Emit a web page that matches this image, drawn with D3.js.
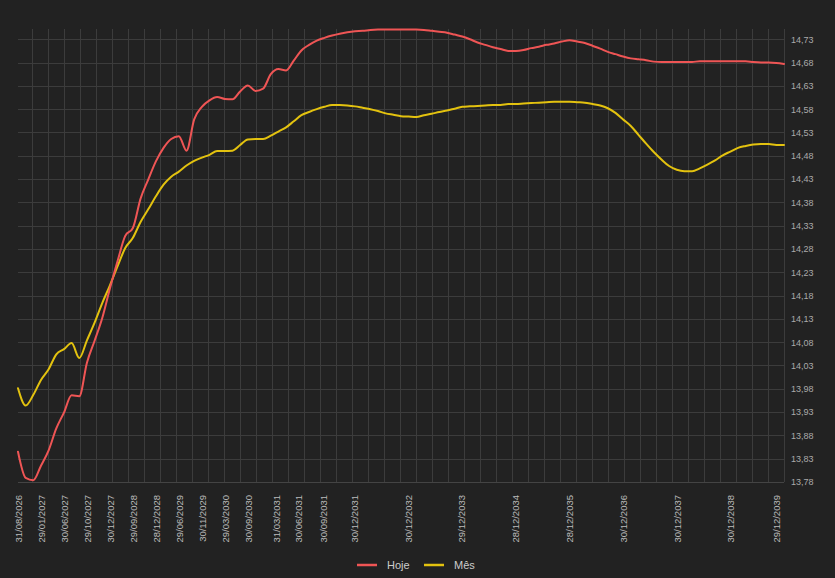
<!DOCTYPE html>
<html>
<head>
<meta charset="utf-8">
<script src="https://cdn.jsdelivr.net/npm/d3@7"></script>
<style>
  html, body { margin: 0; padding: 0; background: #222222; }
  svg { display: block; }
</style>
</head>
<body>
<svg id="chart" width="835" height="578"></svg>
<script>
// ---- DATA ----
// x axis: curve vertex index (0..100); labelled vertices with their dates
const tickIndex = [0, 3, 6, 9, 12, 15, 18, 21, 24, 27, 30, 33.7, 36.6, 39.9, 43.9, 50.9, 57.8, 64.9, 71.9, 79, 86, 93, 99];
const tickLabels = ["31/08/2026","29/01/2027","30/06/2027","29/10/2027","30/12/2027","29/09/2028","28/12/2028",
  "29/06/2029","30/11/2029","29/03/2030","30/09/2030","31/03/2031","30/06/2031","30/09/2031","30/12/2031",
  "30/12/2032","29/12/2033","28/12/2034","28/12/2035","30/12/2036","30/12/2037","30/12/2038","29/12/2039"];

const seriesNames = ["Hoje", "Mês"];

const hoje = [13.845,13.789,13.784,13.815,13.848,13.895,13.929,13.966,13.964,14.036,
  14.083,14.132,14.195,14.254,14.308,14.325,14.388,14.429,14.468,14.497,
  14.516,14.522,14.491,14.558,14.585,14.599,14.606,14.602,14.601,14.618,
  14.631,14.619,14.624,14.655,14.666,14.663,14.684,14.706,14.718,14.727,
  14.733,14.738,14.742,14.745,14.747,14.748,14.750,14.751,14.751,14.751,
  14.751,14.751,14.751,14.750,14.748,14.746,14.744,14.740,14.736,14.730,
  14.723,14.718,14.713,14.709,14.705,14.705,14.707,14.711,14.714,14.718,
  14.721,14.725,14.728,14.725,14.722,14.716,14.710,14.703,14.698,14.693,
  14.689,14.687,14.685,14.682,14.681,14.681,14.681,14.681,14.681,14.683,
  14.683,14.683,14.683,14.683,14.683,14.683,14.681,14.680,14.680,14.679,
  14.677];

const mes = [13.981,13.944,13.967,13.999,14.022,14.054,14.065,14.078,14.046,14.084,
  14.122,14.164,14.202,14.243,14.282,14.304,14.338,14.365,14.393,14.418,
  14.435,14.446,14.459,14.469,14.476,14.482,14.490,14.490,14.491,14.503,
  14.515,14.516,14.516,14.523,14.532,14.541,14.554,14.567,14.574,14.580,
  14.585,14.589,14.589,14.588,14.586,14.583,14.580,14.576,14.571,14.568,
  14.565,14.564,14.563,14.567,14.570,14.574,14.577,14.581,14.585,14.586,
  14.587,14.588,14.589,14.589,14.591,14.591,14.592,14.593,14.594,14.595,
  14.596,14.596,14.596,14.595,14.594,14.591,14.588,14.582,14.572,14.558,
  14.544,14.525,14.506,14.488,14.472,14.458,14.450,14.447,14.447,14.453,
  14.461,14.470,14.481,14.489,14.497,14.501,14.504,14.505,14.505,14.503,
  14.503];

const yMin = 13.78, yMax = 14.752, yStep = 0.05;
const yTicks = d3.range(0, 20).map(k => +(yMin + k * yStep).toFixed(2));

// ---- LAYOUT ----
const svg = d3.select("#chart");
const W = 835, H = 578;
const plot = { left: 18, right: 784, top: 29, bottom: 482 };
const colors = { "Hoje": "#ef5555", "Mês": "#e3c20f" };
const gridColor = "#3c3c3c";
const fontFam = "'Liberation Sans', Arial, sans-serif";

svg.append("rect").attr("width", W).attr("height", H).attr("fill", "#222222");

const x = d3.scaleLinear().domain([0, hoje.length - 1]).range([plot.left, plot.right]);
const y = d3.scaleLinear().domain([yMin, yMax]).range([plot.bottom, plot.top]);

// horizontal grid
svg.append("g").selectAll("line").data(yTicks).join("line")
  .attr("x1", plot.left).attr("x2", plot.right)
  .attr("y1", d => Math.round(y(d)) + 0.5).attr("y2", d => Math.round(y(d)) + 0.5)
  .attr("stroke", gridColor).attr("stroke-width", 1);

// vertical grid (every 16px from right edge)
const vx = d3.range(plot.right, plot.left + 8, -16);
svg.append("g").selectAll("line").data(vx).join("line")
  .attr("x1", d => Math.round(d) + 0.5).attr("x2", d => Math.round(d) + 0.5)
  .attr("y1", plot.top).attr("y2", plot.bottom)
  .attr("stroke", gridColor).attr("stroke-width", 1);

// bottom axis line
svg.append("line").attr("x1", plot.left).attr("x2", plot.right)
  .attr("y1", plot.bottom + 0.5).attr("y2", plot.bottom + 0.5)
  .attr("stroke", "#444").attr("stroke-width", 1);

// y axis (right)
const yAxis = d3.axisRight(y).tickValues(yTicks).tickSize(0).tickPadding(7)
  .tickFormat(d => d3.format(".2f")(d).replace(".", ","));
const gy = svg.append("g").attr("transform", `translate(${plot.right},0)`).call(yAxis);
gy.select(".domain").remove();
gy.selectAll("text").attr("fill", "#aaaaaa").attr("font-size", "9px").attr("font-family", fontFam);

// x axis (bottom)
const xAxis = d3.axisBottom(x).tickValues(tickIndex).tickSize(0)
  .tickFormat((d, i) => tickLabels[i]);
const gx = svg.append("g").attr("transform", `translate(0,${plot.bottom})`).call(xAxis);
gx.select(".domain").remove();
gx.selectAll("text")
  .attr("fill", "#bbbbbb").attr("font-size", "9.5px").attr("font-family", fontFam)
  .attr("text-anchor", "end")
  .attr("transform", "rotate(-90)")
  .attr("x", -13).attr("y", 0).attr("dy", "0.35em");

// lines
const line = d3.line().x((d, i) => x(i)).y(d => y(d)).curve(d3.curveMonotoneX);
[[mes, "Mês"], [hoje, "Hoje"]].forEach(([vals, name]) => {
  svg.append("path").datum(vals)
    .attr("fill", "none").attr("stroke", colors[name]).attr("stroke-width", 2)
    .attr("stroke-linejoin", "round").attr("stroke-linecap", "round")
    .attr("d", line);
});

// legend
const legendX = [357, 424];
const lg = svg.append("g");
seriesNames.forEach((name, i) => {
  lg.append("line").attr("x1", legendX[i]).attr("x2", legendX[i] + 20)
    .attr("y1", 565).attr("y2", 565).attr("stroke", colors[name]).attr("stroke-width", 2.5);
  lg.append("text").attr("x", legendX[i] + 30).attr("y", 565).attr("dy", "0.35em")
    .attr("fill", "#cccccc").attr("font-size", "11px").attr("font-family", fontFam)
    .text(name);
});
</script>
</body>
</html>
